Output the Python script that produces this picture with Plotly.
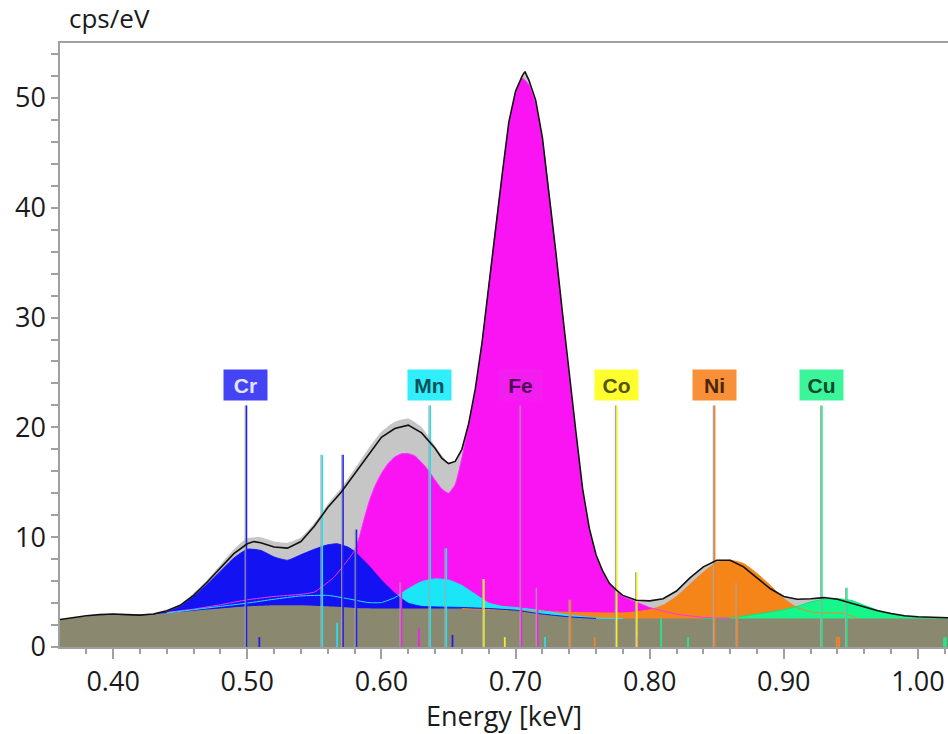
import plotly.graph_objects as go

# ---------------- data ----------------
# measured spectrum (black outline)
spec_x = [0.360, 0.370, 0.380, 0.390, 0.400, 0.410, 0.420, 0.430, 0.440, 0.450,
          0.460, 0.470, 0.480, 0.490, 0.500, 0.505, 0.510, 0.520, 0.530, 0.540,
          0.550, 0.560, 0.570, 0.580, 0.590, 0.600, 0.610, 0.620, 0.630, 0.640,
          0.645, 0.650, 0.655, 0.660, 0.665, 0.670, 0.675, 0.680, 0.685, 0.690,
          0.695, 0.700, 0.705, 0.707, 0.710, 0.715, 0.720, 0.725, 0.730, 0.735,
          0.740, 0.745, 0.750, 0.755, 0.760, 0.765, 0.770, 0.775, 0.780, 0.790,
          0.800, 0.810, 0.820, 0.830, 0.840, 0.850, 0.860, 0.870, 0.880, 0.890,
          0.900, 0.910, 0.920, 0.930, 0.940, 0.950, 0.960, 0.970, 0.980, 0.990,
          1.000, 1.010, 1.025]
spec_y = [2.5, 2.7, 2.85, 2.95, 3.0, 2.95, 2.9, 3.0, 3.3, 3.8,
          4.7, 5.9, 7.2, 8.5, 9.4, 9.6, 9.5, 9.1, 9.0, 9.6,
          11.0, 12.7, 14.1, 15.8, 17.5, 19.1, 19.9, 20.2, 19.5, 18.1,
          17.2, 16.7, 16.9, 18.0, 20.3, 23.5, 27.7, 33.0, 38.2, 43.0,
          47.8, 50.6, 52.0, 52.4, 51.6, 49.8, 46.4, 41.4, 36.0, 30.4,
          24.8, 19.6, 14.4, 10.8, 8.4, 6.9, 5.8, 5.2, 4.7, 4.25,
          4.2, 4.4, 5.1, 6.3, 7.3, 7.9, 7.9, 7.3, 6.3, 5.3,
          4.6, 4.35, 4.4, 4.5, 4.35, 4.0, 3.6, 3.3, 3.05, 2.85,
          2.75, 2.7, 2.65]

# fitted total (grey fill)
fit_x = [0.360, 0.400, 0.430, 0.440, 0.450, 0.460, 0.470, 0.480, 0.490, 0.500,
         0.510, 0.520, 0.530, 0.540, 0.550, 0.560, 0.570, 0.580, 0.590, 0.600,
         0.610, 0.620, 0.630, 0.640, 0.650, 0.655, 0.660, 0.670, 0.680, 0.690,
         0.700, 0.707, 0.710, 0.720, 0.730, 0.740, 0.750, 0.760, 0.770, 0.780,
         0.790, 0.800, 0.810, 0.820, 0.830, 0.840, 0.850, 0.860, 0.870, 0.880,
         0.890, 0.900, 0.910, 0.920, 0.930, 0.940, 0.950, 0.960, 0.970, 0.980,
         1.000, 1.025]
fit_y = [2.5, 3.0, 3.0, 3.3, 3.9, 4.9, 6.1, 7.5, 8.9, 9.9,
         10.0, 9.6, 9.5, 10.0, 11.3, 13.0, 14.5, 16.2, 18.0, 19.6,
         20.5, 20.8, 20.0, 18.3, 16.8, 16.9, 18.0, 23.5, 33.0, 43.0,
         50.6, 52.2, 51.6, 46.4, 36.0, 24.8, 14.4, 8.4, 5.8, 4.7,
         4.25, 4.2, 4.4, 5.1, 6.3, 7.3, 7.9, 7.9, 7.3, 6.3,
         5.3, 4.6, 4.35, 4.4, 4.5, 4.35, 4.0, 3.6, 3.3, 3.05,
         2.75, 2.65]

# background (bremsstrahlung)
bg_x = [0.360, 0.380, 0.400, 0.420, 0.440, 0.460, 0.480, 0.500, 0.520, 0.540,
        0.560, 0.580, 0.600, 0.620, 0.640, 0.660, 0.680, 0.700, 0.720, 0.740,
        0.760, 0.800, 0.900, 1.000, 1.025]
bg_y = [2.5, 2.8, 2.95, 2.95, 3.1, 3.3, 3.5, 3.7, 3.8, 3.8,
        3.7, 3.55, 3.5, 3.5, 3.5, 3.5, 3.45, 3.3, 3.0, 2.75,
        2.6, 2.6, 2.6, 2.6, 2.6]

# element fits (including background)
cr_x = [0.430, 0.440, 0.450, 0.460, 0.470, 0.480, 0.490, 0.500, 0.510, 0.520,
        0.530, 0.540, 0.550, 0.560, 0.567, 0.575, 0.580, 0.590, 0.600, 0.610,
        0.620, 0.630, 0.640, 0.660, 0.680, 0.700, 0.720, 0.740, 0.760]
cr_y = [3.0, 3.2, 3.7, 4.6, 5.7, 6.9, 8.1, 8.9, 8.8, 8.2,
        7.9, 8.4, 8.9, 9.3, 9.4, 9.1, 8.7, 7.5, 6.1, 4.9,
        4.0, 3.7, 3.65, 3.6, 3.5, 3.35, 3.0, 2.75, 2.6]

mn_x = [0.440, 0.460, 0.480, 0.500, 0.520, 0.540, 0.560, 0.575, 0.590, 0.600,
        0.610, 0.620, 0.630, 0.640, 0.650, 0.660, 0.670, 0.680, 0.690, 0.700,
        0.720, 0.740, 0.760, 0.780]
mn_y = [3.1, 3.4, 3.7, 4.0, 4.35, 4.65, 4.7, 4.4, 4.05, 4.05,
        4.5, 5.3, 5.95, 6.2, 6.1, 5.6, 4.8, 4.0, 3.7, 3.6,
        3.3, 2.9, 2.65, 2.6]

fe_x = [0.440, 0.460, 0.480, 0.500, 0.520, 0.540, 0.550, 0.556, 0.565, 0.571,
        0.579, 0.583, 0.587, 0.591, 0.595, 0.600, 0.605, 0.610, 0.615, 0.620,
        0.625, 0.630, 0.635, 0.640, 0.645, 0.650, 0.655, 0.660, 0.665, 0.670,
        0.675, 0.680, 0.685, 0.690, 0.695, 0.700, 0.705, 0.710, 0.715, 0.720,
        0.725, 0.730, 0.735, 0.740, 0.745, 0.750, 0.755, 0.760, 0.765, 0.770,
        0.775, 0.780, 0.790, 0.800, 0.820, 0.840, 0.860]
fe_y = [3.15, 3.45, 3.85, 4.3, 4.6, 4.8, 5.0, 5.5, 6.4, 7.3,
        8.6, 9.8, 11.6, 13.3, 14.6, 15.8, 16.7, 17.3, 17.6, 17.6,
        17.4, 16.8, 16.1, 15.2, 14.4, 14.0, 14.8, 17.2, 20.2, 23.3,
        27.5, 32.8, 38.0, 42.8, 47.6, 50.3, 51.8, 51.2, 49.5, 46.2,
        41.2, 35.8, 30.2, 24.6, 19.4, 14.2, 10.6, 8.3, 6.8, 5.8,
        5.1, 4.6, 4.1, 3.6, 3.0, 2.7, 2.6]

ni_x = [0.660, 0.700, 0.740, 0.780, 0.790, 0.800, 0.810, 0.820, 0.830, 0.840,
        0.850, 0.860, 0.870, 0.880, 0.890, 0.900, 0.910, 0.920, 0.930, 0.945,
        0.955]
ni_y = [3.5, 3.35, 3.15, 3.1, 3.2, 3.4, 3.8, 4.6, 5.7, 6.8,
        7.7, 7.9, 7.6, 6.7, 5.6, 4.4, 3.6, 3.2, 3.1, 3.05,
        2.6]

cu_x = [0.840, 0.860, 0.880, 0.900, 0.910, 0.920, 0.930, 0.940, 0.950, 0.960,
        0.970, 0.980, 0.990, 1.000, 1.025]
cu_y = [2.6, 2.65, 3.0, 3.4, 3.7, 4.1, 4.35, 4.4, 4.25, 3.8,
        3.35, 3.0, 2.8, 2.7, 2.65]

# line markers
major_el = ["Cr", "Mn", "Fe", "Co", "Ni", "Cu"]
major_e = [0.499, 0.636, 0.704, 0.775, 0.848, 0.928]
major_h = [22.0, 22.0, 22.0, 22.0, 22.0, 22.0]

minor_el = ["Mn", "Cr", "Cr", "Fe", "Mn", "Co", "Fe", "Ni", "Co", "Ni", "Cu"]
minor_e = [0.5555, 0.571, 0.581, 0.6145, 0.648, 0.676, 0.716, 0.7405, 0.790, 0.865, 0.9466]
minor_h = [17.5, 17.5, 10.7, 5.9, 9.0, 6.2, 5.4, 4.3, 6.8, 5.9, 5.4]

tiny_el = ["Cr", "Mn", "Fe", "Cr", "Co", "Mn", "Ni", "Fe", "Cu", "Cu", "Ni", "Ni", "Cu", "Cu"]
tiny_e = [0.509, 0.567, 0.628, 0.653, 0.692, 0.722, 0.759, 0.7906, 0.8085, 0.8286, 0.9395, 0.9412, 1.0195, 1.0208]
tiny_h = [0.9, 2.2, 1.7, 1.1, 0.9, 0.9, 0.9, 0.9, 2.6, 0.9, 0.9, 0.9, 0.9, 0.9]

x_ticks = [0.40, 0.50, 0.60, 0.70, 0.80, 0.90, 1.00]
y_ticks = [0, 10, 20, 30, 40, 50]

# ---------------- styles ----------------
fill_col = {"Cr": "#1212f2", "Mn": "#1ae6f8", "Fe": "#fa14f4", "Ni": "#f58518", "Cu": "#16f68a"}
mark_col = {"Cr": "#2020e6", "Mn": "#22e0f0", "Fe": "#f020e8", "Co": "#f0f020", "Ni": "#f08228", "Cu": "#20e888"}
lab_bg = {"Cr": "#4444f4", "Mn": "#30eefc", "Fe": "#f21ef0", "Co": "#ffff30", "Ni": "#f8903a", "Cu": "#3cf59a"}
lab_fg = {"Cr": "#e4e4ff", "Mn": "#0c5258", "Fe": "#4e0a52", "Co": "#55550e", "Ni": "#4a2606", "Cu": "#0a4a2c"}
BG = "#8b8870"
GREY = "#c6c6c6"
FONT = "Open Sans"

fig = go.Figure()

def area(x, y, color):
    fig.add_trace(go.Scatter(x=x, y=y, mode="lines", fill="tozeroy", fillcolor=color,
                             line=dict(width=0, color=color, shape="spline", smoothing=0.5),
                             hoverinfo="skip", showlegend=False))

def outline(x, y, color, w=1.0):
    fig.add_trace(go.Scatter(x=x, y=y, mode="lines",
                             line=dict(width=w, color=color, shape="spline", smoothing=0.5),
                             hoverinfo="skip", showlegend=False))

area(fit_x, fit_y, GREY)
area(fe_x, fe_y, fill_col["Fe"])
area(ni_x, ni_y, fill_col["Ni"])
area(cu_x, cu_y, fill_col["Cu"])
area(mn_x, mn_y, fill_col["Mn"])
area(cr_x, cr_y, fill_col["Cr"])
area(bg_x, bg_y, BG)

outline(ni_x, ni_y, fill_col["Ni"])
outline(cu_x, cu_y, "#10e07a")
outline(fe_x, fe_y, "#ff30ff")
outline(mn_x, mn_y, "#20e8f8")
outline(cr_x, cr_y, "#1a1af0")

# marker lines
def seg_trace(es, hs, color, width, dx=0.0):
    xs, ys = [], []
    for e, h in zip(es, hs):
        xs += [e + dx, e + dx, None]
        ys += [0, h, None]
    fig.add_trace(go.Scatter(x=xs, y=ys, mode="lines", line=dict(color=color, width=width),
                             hoverinfo="skip", showlegend=False))

px = 1 / 1340.0
seg_trace(major_e + minor_e, major_h + minor_h, "#a8a8a8", 1.2, -0.7 * px)
for el in mark_col:
    es = [e for e, n in zip(major_e + minor_e, major_el + minor_el) if n == el]
    hs = [h for h, n in zip(major_h + minor_h, major_el + minor_el) if n == el]
    if es:
        seg_trace(es, hs, mark_col[el], 1.5, 0.6 * px)
    es = [e for e, n in zip(tiny_e, tiny_el) if n == el]
    hs = [h for h, n in zip(tiny_h, tiny_el) if n == el]
    if es:
        seg_trace(es, hs, mark_col[el], 1.8)

# black spectrum line
fig.add_trace(go.Scatter(x=spec_x, y=spec_y, mode="lines",
                         line=dict(color="#111111", width=1.6),
                         hoverinfo="skip", showlegend=False))

# element labels
for el, e in zip(major_el, major_e):
    fig.add_annotation(x=e, y=23.9, xref="x", yref="y", text="<b>%s</b>" % el,
                       showarrow=False, bgcolor=lab_bg[el], width=41, height=28,
                       borderpad=1, font=dict(family="Liberation Sans, Arial", size=21, color=lab_fg[el]))

fig.add_annotation(x=0.0075, y=1.0, xref="paper", yref="paper", xanchor="left", yanchor="middle",
                   yshift=25, text="cps/eV", showarrow=False,
                   font=dict(family=FONT, size=26, color="#1a1a1a"))

fig.update_layout(
    width=948, height=734,
    margin=dict(l=60, r=0, t=43, b=87, autoexpand=False),
    paper_bgcolor="white", plot_bgcolor="white",
    hovermode=False,
    font=dict(family=FONT, size=27, color="#1a1a1a"),
    xaxis=dict(range=[0.3604, 1.0224], tickvals=x_ticks, tickformat=".2f", automargin=False,
               ticks="outside", ticklen=10, tickcolor="#a0a0a0", tickwidth=1.5,
               minor=dict(dtick=0.02, tick0=0.0, ticks="outside", ticklen=5, tickcolor="#a0a0a0", tickwidth=1.5),
               showline=True, linecolor="#a0a0a0", linewidth=1.5, mirror=True,
               showgrid=False, zeroline=False,
               title=dict(text="Energy [keV]", standoff=18, font=dict(size=27)),
               tickfont=dict(size=27)),
    yaxis=dict(range=[0, 55], tickvals=y_ticks, automargin=False,
               ticks="outside", ticklen=7, tickcolor="#a0a0a0", tickwidth=1.5,
               minor=dict(dtick=2, tick0=0, ticks="outside", ticklen=7, tickcolor="#a0a0a0", tickwidth=1.5),
               showline=True, linecolor="#a0a0a0", linewidth=1.5,
               showgrid=False, zeroline=False, tickfont=dict(size=27)),
)

# let the figure fill the window exactly (no default page margin), no toolbar
fig.write_html("out.html", config={"displayModeBar": False},
               post_script="document.body.style.margin='0';document.body.style.overflow='hidden';")
